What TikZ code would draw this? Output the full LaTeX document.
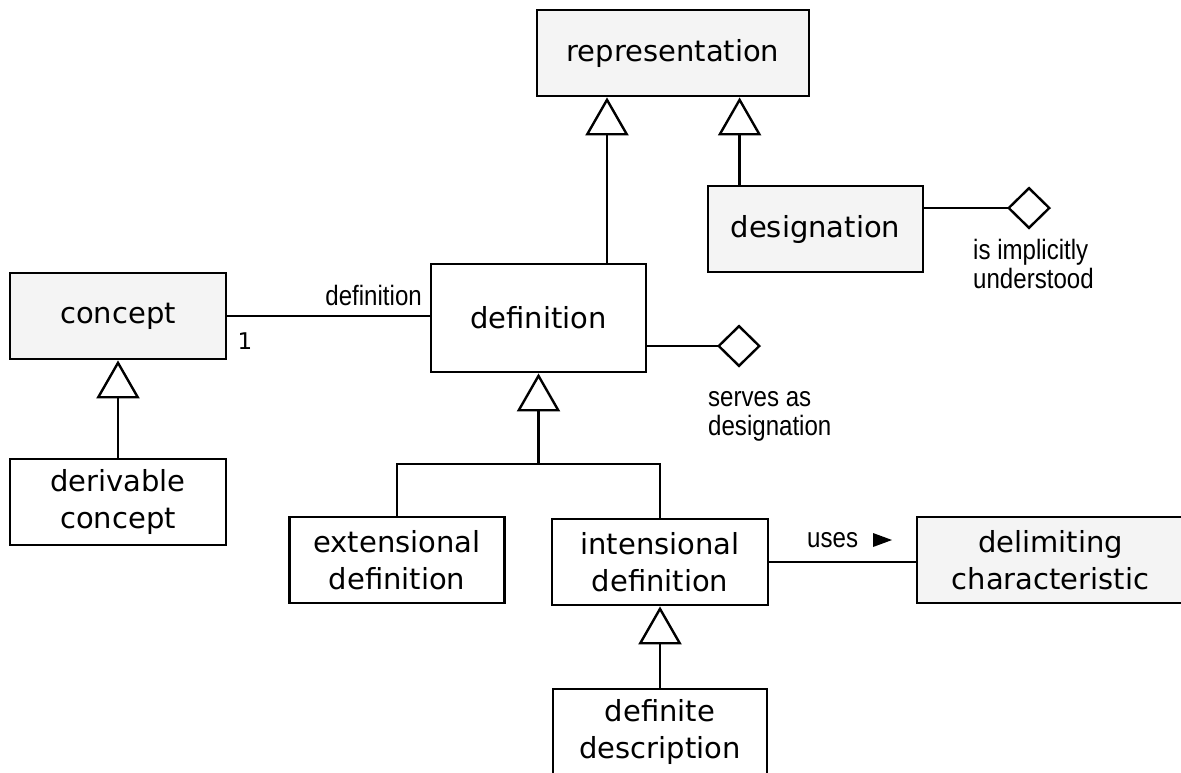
\documentclass[tikz,border=0pt]{standalone}
\usepackage{fontspec}
\usetikzlibrary{arrows.meta}
\newfontfamily\boxfont{DejaVu Sans}
\newfontfamily\lblfont{Liberation Sans}[FakeStretch=0.86]
\definecolor{boxgray}{RGB}{244,244,244}
\begin{document}
\begin{tikzpicture}[x=1pt,y=-1pt,
  box/.style={draw, line width=2.8pt, inner sep=0pt, align=center,
    font={\boxfont\fontsize{29}{36.7}\selectfont}},
  greybox/.style={box, fill=boxgray},
  whitebox/.style={box, fill=white},
  lbl/.style={inner sep=0pt, font={\lblfont\fontsize{28}{30}\selectfont}},
  mult/.style={inner sep=0pt, font={\boxfont\fontsize{23}{27}\selectfont}},
  conn/.style={line width=2.4pt},
  gen/.style={conn, -{Triangle[open, length=38pt, width=43pt]}},
  agg/.style={conn, -{Diamond[open, length=44pt, width=43pt]}}
]
\fill[white] (0,0) rectangle (1181,772);
\useasboundingbox (0,0) rectangle (1181,772);

% boxes
\node[greybox, minimum width=272pt, minimum height=86pt] (rep) at (673,53) {representation};
\node[greybox, minimum width=215pt, minimum height=86pt] (desig) at (815.5,229) {designation};
\node[greybox, minimum width=216pt, minimum height=86pt] (concept) at (118,316) {concept};
\node[whitebox, minimum width=215pt, minimum height=108pt] (defn) at (538.5,318) {definition};
\node[whitebox, minimum width=216pt, minimum height=86pt] (deriv) at (118,502) {derivable\\concept};
\node[whitebox, minimum width=215pt, minimum height=86pt] (ext) at (397,560) {extensional\\definition};
\node[whitebox, minimum width=216pt, minimum height=86pt] (int) at (660,562) {intensional\\definition};
\node[greybox, minimum width=267pt, minimum height=86pt] (delim) at (1050.5,560) {delimiting\\characteristic};
\node[whitebox, minimum width=214pt, minimum height=86pt] (defdesc) at (660,732) {definite\\description};

% generalisations
\draw[gen] ([xshift=68.5pt]defn.north) -- ([xshift=68.5pt]defn.north |- rep.south);
\draw[gen] ([xshift=33pt]desig.north west) -- ([xshift=33pt]desig.north west |- rep.south);
\draw[gen] (deriv.north) -- (concept.south);
\coordinate (j) at (538.5,464);
\draw[conn] (ext.north) |- (j) -| (int.north);
\draw[gen] (j) -- (defn.south);
\draw[gen] (defdesc.north) -- (int.south);

% aggregations
\coordinate (dg) at (1051,208);
\draw[agg] (desig.east |- dg) -- (dg);
\coordinate (dd) at (761,346);
\draw[agg] (defn.east |- dd) -- (dd);

% associations
\draw[conn] (concept.east) -- (concept.east -| defn.west);
\draw[conn] (int.east) -- (int.east -| delim.west);

% labels
\node[lbl, anchor=base east] (ldef) at (422,305) {definition};
\node[mult, anchor=base] (lone) at (245,349) {1};
\node[lbl, anchor=base west] (lserve1) at (708,406) {serves as};
\node[lbl, anchor=base west] (lserve2) at (708,435) {designation};
\node[lbl, anchor=base west] (limp1) at (973,259) {is implicitly};
\node[lbl, anchor=base west] (limp2) at (973,288) {understood};
\node[lbl, anchor=base west] (luses) at (807,547) {uses};
\fill (873,533) -- (892,540) -- (873,547) -- cycle;
\end{tikzpicture}
\end{document}
